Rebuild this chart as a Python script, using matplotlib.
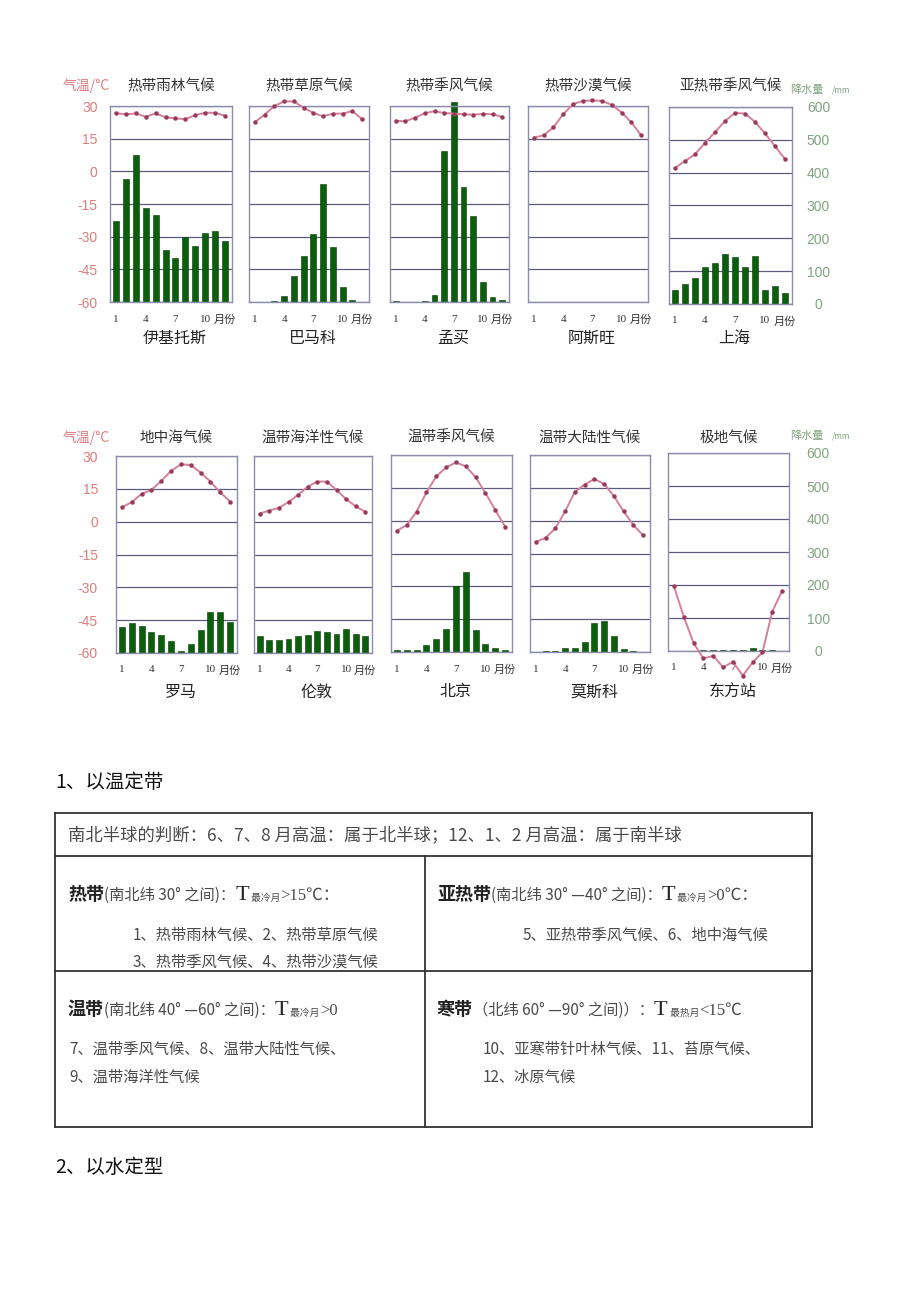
import matplotlib
matplotlib.use("Agg")
import matplotlib.pyplot as plt
from matplotlib.lines import Line2D

plt.rcParams['font.family'] = ['Noto Sans CJK SC', 'DejaVu Sans']
plt.rcParams['axes.unicode_minus'] = False

# ---------------- data ----------------
MONTHS = list(range(1, 13))
TICK_MONTHS = [1, 4, 7, 10, 12]
TICK_LABELS = ["1", "4", "7", "10", "月份"]
TEMP_TICKS = [30, 15, 0, -15, -30, -45, -60]
RAIN_TICKS = [600, 500, 400, 300, 200, 100, 0]

climates = ["热带雨林气候", "热带草原气候", "热带季风气候", "热带沙漠气候", "亚热带季风气候",
            "地中海气候", "温带海洋性气候", "温带季风气候", "温带大陆性气候", "极地气候"]
stations = ["伊基托斯", "巴马科", "孟买", "阿斯旺", "上海",
            "罗马", "伦敦", "北京", "莫斯科", "东方站"]

iquitos_t = [26.6, 26.2, 26.6, 25.1, 26.6, 24.8, 24.3, 24.0, 25.8, 26.9, 26.9, 25.5]
iquitos_p = [249, 377, 451, 288, 265, 160, 136, 198, 172, 211, 216, 188]
bamako_t = [22.6, 26.0, 30.0, 32.1, 32.1, 29.2, 26.8, 25.3, 26.5, 26.5, 27.7, 23.9]
bamako_p = [1, 0, 3, 17, 80, 140, 208, 360, 167, 47, 5, 0]
mumbai_t = [23.2, 23.0, 24.7, 26.7, 27.6, 26.8, 26.5, 26.2, 26.0, 26.4, 26.2, 25.0]
mumbai_p = [2, 1, 1, 2, 21, 463, 612, 351, 264, 61, 15, 7]
aswan_t = [15.5, 16.5, 20.2, 26.2, 30.8, 32.3, 32.6, 32.3, 30.5, 27.0, 22.5, 16.5]
aswan_p = [0, 0, 0, 1.5, 0, 0, 0, 0, 0, 1.5, 0, 0]
shanghai_t = [2.2, 5.3, 8.4, 13.6, 18.5, 23.6, 27.3, 27.0, 23.2, 17.9, 12.1, 6.2]
shanghai_p = [44, 62, 79, 114, 126, 153, 142, 114, 145, 44, 54, 35]

rome_t = [6.6, 8.9, 12.7, 14.5, 18.6, 23.2, 26.2, 25.9, 22.4, 18.3, 13.4, 9.2]
rome_p = [78, 91, 81, 63, 54, 38, 7, 27, 71, 125, 125, 94]
london_t = [3.7, 5.1, 6.3, 9.0, 12.3, 16.0, 18.3, 18.3, 14.5, 10.3, 7.0, 4.5]
london_p = [51, 39, 39, 43, 51, 54, 66, 63, 58, 74, 58, 51]
beijing_t = [-4.6, -2.0, 4.1, 12.9, 20.2, 24.3, 26.6, 24.8, 19.9, 12.6, 4.9, -2.8]
beijing_p = [7, 7, 7, 22, 40, 71, 201, 245, 67, 23, 11, 7]
moscow_t = [-9.7, -7.8, -3.5, 4.2, 13.2, 16.5, 19.0, 16.8, 11.2, 4.2, -2.0, -6.7]
moscow_p = [1, 3, 3, 11, 11, 30, 88, 93, 48, 8, 4, 1]
vostok_t = [-30.5, -44.4, -56.4, -63.4, -62.2, -67.4, -64.9, -71.2, -65.2, -60.6, -42.1, -32.6]
vostok_p = [0, 0, 0, 2, 2, 4, 2, 2, 9, 4, 2, 0]

temps = [iquitos_t, bamako_t, mumbai_t, aswan_t, shanghai_t,
         rome_t, london_t, beijing_t, moscow_t, vostok_t]
rains = [iquitos_p, bamako_p, mumbai_p, aswan_p, shanghai_p,
         rome_p, london_p, beijing_p, moscow_p, vostok_p]

# ---------------- styling ----------------
W, H = 920, 1302
BAR = "#0b5e0b"
LINE = "#d4809a"
DOT = "#9a3a5a"
GRID = "#5c5c7c"
FRAME = "#8c8cac"
TEMP_C = "#e07c7c"
RAIN_C = "#7fa47f"
SERIF = ['Liberation Serif', 'Noto Sans CJK SC']

fig = plt.figure(figsize=(W / 100, H / 100), dpi=100)


def rect(l, t, r, b):
    return [l / W, 1 - b / H, (r - l) / W, (b - t) / H]


def fx(x):
    return x / W


def fy(y):
    return 1 - y / H


def panel(box, t, p, climate, station, first, last, title_y, name_y, lpad, rpad):
    ax = fig.add_axes(rect(*box))
    tw = ax.twinx()   # twinx resets the host's y ticks, so create it first

    ax.bar(MONTHS, p, width=0.6, color=BAR, edgecolor="#053a05", linewidth=0.4,
           clip_on=False, zorder=2)
    ax.set_xlim(0.4, 12.7)
    ax.set_ylim(0, 600)
    ax.set_yticks(RAIN_TICKS)
    ax.grid(axis='y', color=GRID, linewidth=0.9)
    ax.set_axisbelow(True)
    ax.set_xticks(TICK_MONTHS)
    ax.set_xticklabels(TICK_LABELS)
    ax.yaxis.set_ticks_position('right')
    ax.tick_params(axis='x', length=0, pad=9, labelsize=8, labelcolor="#333333",
                   labelfontfamily=SERIF)
    ax.tick_params(axis='y', length=0, pad=rpad, labelsize=10, labelcolor=RAIN_C,
                   labelright=last, labelleft=False, labelfontfamily='Liberation Sans')
    for lbl in ax.get_yticklabels():
        lbl.set_horizontalalignment('center')
    for s in ax.spines.values():
        s.set_color(FRAME)
        s.set_linewidth(1.0)

    tw.plot(MONTHS, t, color=LINE, linewidth=1.4, marker='o', markersize=2.2,
            markerfacecolor=DOT, markeredgecolor=DOT, clip_on=False, zorder=3)
    tw.set_ylim(-60, 30)
    tw.set_yticks(TEMP_TICKS)
    tw.yaxis.set_ticks_position('left')
    tw.tick_params(axis='y', length=0, pad=lpad, labelsize=10, labelcolor=TEMP_C,
                   labelleft=first, labelright=False, labelfontfamily='Liberation Sans')
    for s in tw.spines.values():
        s.set_visible(False)

    cx = (box[0] + box[2]) / 2
    fig.text(fx(cx), fy(title_y), climate, ha='center', va='center',
             fontsize=10.5, color="#333333")
    fig.text(fx(cx + 4), fy(name_y), station, ha='center', va='center',
             fontsize=11.5, color="#222222")


row1 = [(110, 106, 232, 302), (249, 106, 369, 302), (390, 106, 509, 302),
        (528, 106, 648, 302), (669, 107, 792, 304)]
row2 = [(116, 456, 237, 653), (254, 456, 372, 653), (391, 455, 512, 652),
        (530, 455, 650, 652), (668, 453, 789, 651)]

for i, box in enumerate(row1):
    panel(box, temps[i], rains[i], climates[i], stations[i], i == 0, i == 4,
          86, 338, 9, 19)
for i, box in enumerate(row2):
    j = i + 5
    panel(box, temps[j], rains[j], climates[j], stations[j], i == 0, i == 4,
          438, 692, 13, 21)

# axis captions
for y in (86, 438):
    fig.text(fx(63), fy(y), "气温/°C", ha='left', va='center', fontsize=10,
             color=TEMP_C)
for y in (90, 436):
    fig.text(fx(790), fy(y), "降水量", ha='left', va='center', fontsize=8,
             color=RAIN_C)
    fig.text(fx(832), fy(y), "/mm", ha='left', va='center', fontsize=6,
             color=RAIN_C)

# ---------------- text and table ----------------
fig.text(fx(55), fy(783), "1、以温定带", ha='left', va='center', fontsize=14,
         color="#111111")
fig.text(fx(55), fy(1167), "2、以水定型", ha='left', va='center', fontsize=14,
         color="#111111")

renderer = fig.canvas.get_renderer()
GRAY = "#4a4a4a"


def rich(x, y, parts):
    for s, kw in parts:
        dy = kw.pop('dy', 0)
        t = fig.text(fx(x), fy(y + dy), s, ha='left', va='baseline', **kw)
        x += t.get_window_extent(renderer=renderer).width


def zone(x, y, name, rng, sub, cond):
    rich(x, y, [
        (name, dict(fontsize=13, fontweight='bold', color="#222222")),
        (rng, dict(fontsize=11, color=GRAY)),
        ("T", dict(fontsize=16, family='Liberation Serif', color="#222222")),
        (" " + sub, dict(fontsize=7, color=GRAY, dy=1)),
        (cond, dict(fontsize=12, color=GRAY, family=SERIF)),
    ])


def body(x, y, s):
    fig.text(fx(x), fy(y), s, ha='left', va='center', fontsize=11, color=GRAY)


# table frame
L, R, T, B = 55, 812, 813, 1127
lines = [((L, R), (T, T)), ((L, R), (B, B)), ((L, L), (T, B)), ((R, R), (T, B)),
         ((L, R), (856, 856)), ((L, R), (971, 971)), ((425, 425), (856, B))]
for xs, ys in lines:
    fig.add_artist(Line2D([fx(v) for v in xs], [fy(v) for v in ys],
                          color="#333333", linewidth=1.3))

fig.text(fx(68), fy(835), "南北半球的判断：6、7、8 月高温：属于北半球；12、1、2 月高温：属于南半球",
         ha='left', va='center', fontsize=12.5, color=GRAY)

zone(68, 900, "热带", "(南北纬 30° 之间)：", "最冷月", ">15℃：")
body(133, 935, "1、热带雨林气候、2、热带草原气候")
body(133, 962, "3、热带季风气候、4、热带沙漠气候")

zone(437, 900, "亚热带", "(南北纬 30° —40° 之间)：", "最冷月", ">0℃：")
body(523, 935, "5、亚热带季风气候、6、地中海气候")

zone(68, 1015, "温带", "(南北纬 40° —60° 之间)：", "最冷月", ">0")
body(69, 1049, "7、温带季风气候、8、温带大陆性气候、")
body(69, 1077, "9、温带海洋性气候")

zone(437, 1015, "寒带", "（北纬 60° —90° 之间)）：", "最热月", "<15℃")
body(483, 1049, "10、亚寒带针叶林气候、11、苔原气候、")
body(483, 1077, "12、冰原气候")

fig.savefig("out.png", dpi=100)
